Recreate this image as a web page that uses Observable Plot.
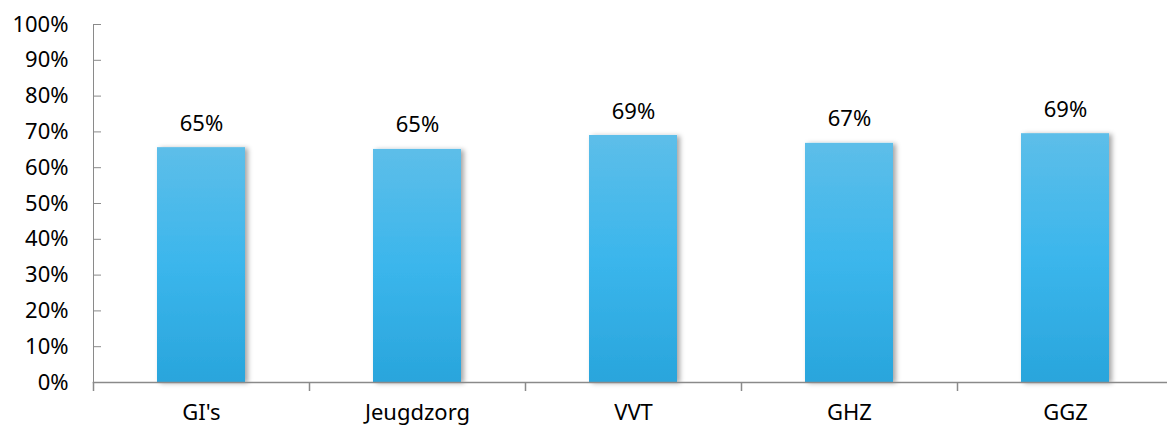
<!DOCTYPE html>
<html><head><meta charset="utf-8">
<script src="https://cdn.jsdelivr.net/npm/d3@7"></script>
<script src="https://cdn.jsdelivr.net/npm/@observablehq/plot@0.6"></script>
<style>body{margin:0;background:#fff}</style>
</head><body><div id="chart"></div>
<script>
const categories = ["GI's", "Jeugdzorg", "VVT", "GHZ", "GGZ"];
const values = [0.656, 0.651, 0.690, 0.668, 0.695];
const labels = ["65%", "65%", "69%", "67%", "69%"];
const yTicks = [0, 0.1, 0.2, 0.3, 0.4, 0.5, 0.6, 0.7, 0.8, 0.9, 1.0];

const data = categories.map((c, i) => ({cat: c, value: values[i], label: labels[i]}));
const font = "'Noto Sans', 'Open Sans', sans-serif";
const axisColor = "#8a8a8a";

const chart = Plot.plot({
  width: 1167, height: 430,
  marginLeft: 93, marginRight: 0, marginTop: 24, marginBottom: 48,
  style: {fontFamily: font, fontSize: "22px", color: "#000", background: "#fff"},
  x: {domain: categories, range: [93, 1173], paddingInner: 0.593, paddingOuter: 0.2965, align: 0.5, label: null},
  y: {domain: [0, 1], label: null},
  marks: [
    Plot.barY(data, {x: "cat", y: "value", fill: "url(#barGrad)"}),
    Plot.text(data, {x: "cat", y: "value", text: "label", dy: -24, fontSize: 22, fill: "#000"}),
    Plot.frame({anchor: "left", stroke: axisColor}),
    Plot.frame({anchor: "bottom", stroke: axisColor, strokeWidth: 1.5}),
    Plot.axisY({ticks: yTicks, tickFormat: d => Math.round(d * 100) + "%", tickSize: 0, tickPadding: 25, fontSize: 22, fill: "#000"}),
    Plot.axisY({ticks: yTicks, text: null, tickSize: 8, dx: 8, stroke: axisColor}),
    Plot.axisX({tickSize: 0, tickPadding: 22, fontSize: 22, fill: "#000"}),
    Plot.axisX({text: null, tickSize: 9, dx: -108, stroke: axisColor, strokeWidth: 1.5})
  ]
});

const svg = d3.select(chart);
const defs = svg.insert("defs", ":first-child");
const g = defs.append("linearGradient").attr("id", "barGrad").attr("x1", 0).attr("y1", 0).attr("x2", 0).attr("y2", 1);
g.append("stop").attr("offset", "0%").attr("stop-color", "#5dbee9");
g.append("stop").attr("offset", "50%").attr("stop-color", "#3bb6ec");
g.append("stop").attr("offset", "100%").attr("stop-color", "#29a5dc");
const f = defs.append("filter").attr("id", "shadow").attr("x", "-20%").attr("y", "-10%").attr("width", "140%").attr("height", "120%");
f.append("feDropShadow").attr("dx", 3).attr("dy", 1).attr("stdDeviation", 2.5).attr("flood-color", "#000").attr("flood-opacity", 0.35);
svg.selectAll("g[aria-label='bar'] rect").attr("filter", "url(#shadow)");

document.getElementById("chart").appendChild(chart);
</script>
</body></html>
